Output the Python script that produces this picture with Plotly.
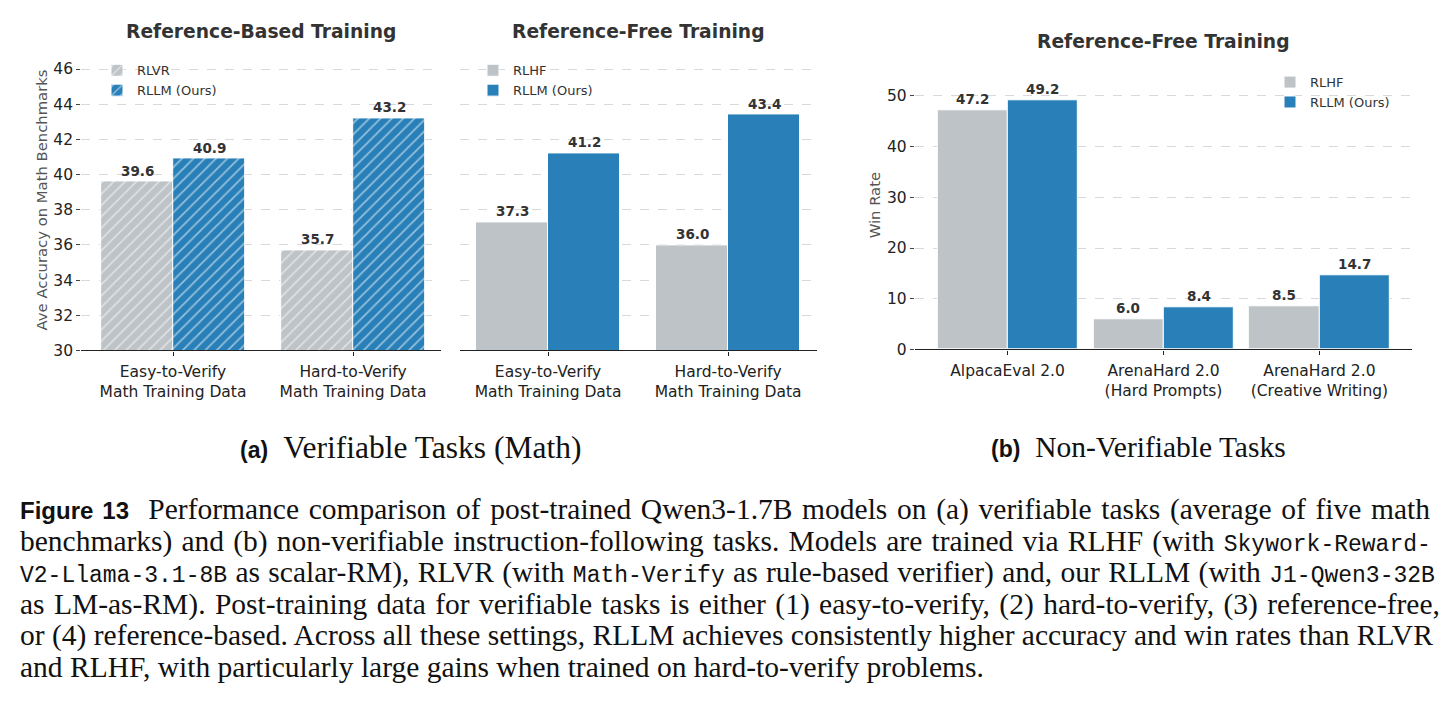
import plotly.graph_objects as go

W, H = 1448, 705

# ---------------- data ----------------
math_categories = ["Easy-to-Verify<br>Math Training Data", "Hard-to-Verify<br>Math Training Data"]
rlvr_values = [39.6, 35.7]
rllm_refbased_values = [40.9, 43.2]
rlhf_math_values = [37.3, 36.0]
rllm_reffree_values = [41.2, 43.4]

nv_categories = ["AlpacaEval 2.0", "ArenaHard 2.0<br>(Hard Prompts)", "ArenaHard 2.0<br>(Creative Writing)"]
rlhf_nv_values = [47.2, 6.0, 8.5]
rllm_nv_values = [49.2, 8.4, 14.7]

GRAY = "#bdc3c7"
BLUE = "#2980b9"
SANS = "DejaVu Sans"
SERIF = "Liberation Serif"


def px(x):
    return x / W


def py(y):
    return 1 - y / H


fig = go.Figure()

# panel 1 : reference-based (hatched)
xs1 = list(range(len(math_categories)))
fig.add_trace(go.Bar(
    x=xs1, y=rlvr_values, width=0.4, offset=-0.4, name="RLVR",
    marker=dict(color=GRAY, line=dict(color="white", width=1),
                pattern=dict(shape="/", fgcolor="white", bgcolor=GRAY, size=8, solidity=0.22)),
    xaxis="x", yaxis="y", legend="legend"))
fig.add_trace(go.Bar(
    x=xs1, y=rllm_refbased_values, width=0.4, offset=0.0, name="RLLM (Ours)",
    marker=dict(color=BLUE, line=dict(color="white", width=1),
                pattern=dict(shape="/", fgcolor="white", bgcolor=BLUE, size=8, solidity=0.22)),
    xaxis="x", yaxis="y", legend="legend"))

# panel 2 : reference-free math
fig.add_trace(go.Bar(
    x=xs1, y=rlhf_math_values, width=0.4, offset=-0.4, name="RLHF",
    marker=dict(color=GRAY, line=dict(color="white", width=1)),
    xaxis="x2", yaxis="y2", legend="legend2"))
fig.add_trace(go.Bar(
    x=xs1, y=rllm_reffree_values, width=0.4, offset=0.0, name="RLLM (Ours)",
    marker=dict(color=BLUE, line=dict(color="white", width=1)),
    xaxis="x2", yaxis="y2", legend="legend2"))

# panel 3 : non-verifiable
xs3 = list(range(len(nv_categories)))
fig.add_trace(go.Bar(
    x=xs3, y=rlhf_nv_values, width=0.45, offset=-0.45, name="RLHF",
    marker=dict(color=GRAY, line=dict(color="white", width=1)),
    xaxis="x3", yaxis="y3", legend="legend3"))
fig.add_trace(go.Bar(
    x=xs3, y=rllm_nv_values, width=0.45, offset=0.0, name="RLLM (Ours)",
    marker=dict(color=BLUE, line=dict(color="white", width=1)),
    xaxis="x3", yaxis="y3", legend="legend3"))

annotations = []


def value_labels(xs, vals, off, xref, yref):
    for x, v in zip(xs, vals):
        annotations.append(dict(
            x=x + off, y=v, xref=xref, yref=yref, text=f"<b>{v:.1f}</b>",
            showarrow=False, yanchor="bottom", yshift=1,
            font=dict(family=SANS, size=13.5, color="#333333")))


value_labels(xs1, rlvr_values, -0.2, "x", "y")
value_labels(xs1, rllm_refbased_values, 0.2, "x", "y")
value_labels(xs1, rlhf_math_values, -0.2, "x2", "y2")
value_labels(xs1, rllm_reffree_values, 0.2, "x2", "y2")
value_labels(xs3, rlhf_nv_values, -0.225, "x3", "y3")
value_labels(xs3, rllm_nv_values, 0.225, "x3", "y3")

# titles
for xc, yc, t in [((81.2 + 441.2) / 2, 31.7, "Reference-Based Training"),
                  ((460 + 817) / 2, 31.7, "Reference-Free Training"),
                  ((914.8 + 1412.2) / 2, 41.7, "Reference-Free Training")]:
    annotations.append(dict(x=px(xc), y=py(yc), xref="paper", yref="paper", text=f"<b>{t}</b>",
                            showarrow=False, xanchor="center", yanchor="middle",
                            font=dict(family=SANS, size=18.7, color="#333333")))

# y-axis titles
annotations.append(dict(x=px(41), y=py(203), xref="paper", yref="paper",
                        text="Ave Accuracy on Math Benchmarks", textangle=-90, showarrow=False,
                        xanchor="center", yanchor="middle",
                        font=dict(family=SANS, size=14.8, color="#555555")))
annotations.append(dict(x=px(874), y=py(208), xref="paper", yref="paper",
                        text="Win Rate", textangle=-90, showarrow=False,
                        xanchor="center", yanchor="middle",
                        font=dict(family=SANS, size=14.8, color="#555555")))

# sub-captions
SUBLBL = "<span style=\"font-family:Liberation Sans;font-size:23px\"><b>{}</b></span>  "
annotations.append(dict(x=px(410), y=py(453), xref="paper", yref="paper", showarrow=False,
                        xanchor="center", yanchor="middle",
                        text=SUBLBL.format("(a)") + "Verifiable Tasks (Math)",
                        font=dict(family=SERIF, size=31.5, color="#111111")))
annotations.append(dict(x=px(1138), y=py(453), xref="paper", yref="paper", showarrow=False,
                        xanchor="center", yanchor="middle",
                        text=SUBLBL.format("(b)") + "Non-Verifiable Tasks",
                        font=dict(family=SERIF, size=29.5, color="#111111")))

MONO = "<span style=\"font-family:Liberation Mono;font-size:23px\">{}</span>"
caption_lines = [
    "<span style=\"font-family:Liberation Sans;font-size:24px\"><b>Figure 13</b></span>  Performance comparison of post-trained Qwen3-1.7B models on (a) verifiable tasks (average of five math",
    "benchmarks) and (b) non-verifiable instruction-following tasks. Models are trained via RLHF (with " + MONO.format("Skywork-Reward-"),
    MONO.format("V2-Llama-3.1-8B") + " as scalar-RM), RLVR (with " + MONO.format("Math-Verify") + " as rule-based verifier) and, our RLLM (with " + MONO.format("J1-Qwen3-32B"),
    "as LM-as-RM). Post-training data for verifiable tasks is either (1) easy-to-verify, (2) hard-to-verify, (3) reference-free,",
    "or (4) reference-based. Across all these settings, RLLM achieves consistently higher accuracy and win rates than RLVR",
    "and RLHF, with particularly large gains when trained on hard-to-verify problems.",
]
# extra word spacing (px) to emulate the justified paragraph
caption_spacing = [2.3, 1.8, 1.0, 2.0, 0.0, 0.0]
for i, line in enumerate(caption_lines):
    txt = f"<span style=\"word-spacing:{caption_spacing[i]}px\">{line}</span>" if caption_spacing[i] else line
    annotations.append(dict(x=px(18), y=py(516 + 32 * i), xref="paper", yref="paper", showarrow=False,
                            xanchor="left", yanchor="middle", text=txt,
                            font=dict(family=SERIF, size=29.5, color="#111111")))

xcommon = dict(showline=True, linecolor="#222222", linewidth=1.2, ticks="outside", ticklen=4,
               tickcolor="#222222", showgrid=False, zeroline=False, ticklabelstandoff=3,
               tickfont=dict(family=SANS, size=15.5, color="#222222"), layer="above traces")
ycommon = dict(showline=False, showgrid=True, griddash="dash", gridcolor="rgba(185,185,185,0.55)",
               gridwidth=0.8, zeroline=False, ticks="outside", ticklen=4, tickcolor="#444444",
               tickfont=dict(family=SANS, size=15.5, color="#222222"), layer="above traces")

LEGFONT = dict(family=SANS, size=13, color="#333333")
fig.update_layout(
    width=W, height=H, margin=dict(l=0, r=0, t=0, b=0),
    paper_bgcolor="white", plot_bgcolor="white",
    barmode="overlay", bargap=0,
    showlegend=True,
    xaxis=dict(**xcommon, domain=[px(81.2), px(441.2)], range=[-0.51, 1.49],
               tickvals=xs1, ticktext=math_categories, anchor="y"),
    yaxis=dict(**ycommon, domain=[py(355), py(45)], range=[30, 47.4], tick0=30, dtick=2, anchor="x"),
    xaxis2=dict(**xcommon, domain=[px(460), px(817)], range=[-0.489, 1.494],
                tickvals=xs1, ticktext=math_categories, anchor="y2"),
    yaxis2=dict(**{**ycommon, "ticks": "", "showticklabels": False},
                domain=[py(355), py(45)], range=[30, 47.4], tick0=30, dtick=2, anchor="x2"),
    xaxis3=dict(**xcommon, domain=[px(914.8), px(1412.2)], range=[-0.595, 2.595],
                tickvals=xs3, ticktext=nv_categories, anchor="y3"),
    yaxis3=dict(**ycommon, domain=[py(354), py(56)], range=[0, 58], tick0=0, dtick=10, anchor="x3"),
    legend=dict(x=px(97), y=py(56), xanchor="left", yanchor="top", bgcolor="rgba(0,0,0,0)",
                font=LEGFONT, tracegroupgap=0),
    legend2=dict(x=px(473), y=py(56), xanchor="left", yanchor="top", bgcolor="rgba(0,0,0,0)",
                 font=LEGFONT, tracegroupgap=0),
    legend3=dict(x=px(1270), y=py(68), xanchor="left", yanchor="top", bgcolor="rgba(0,0,0,0)",
                 font=LEGFONT, tracegroupgap=0),
    annotations=annotations,
)

fig.write_html("out.html")
